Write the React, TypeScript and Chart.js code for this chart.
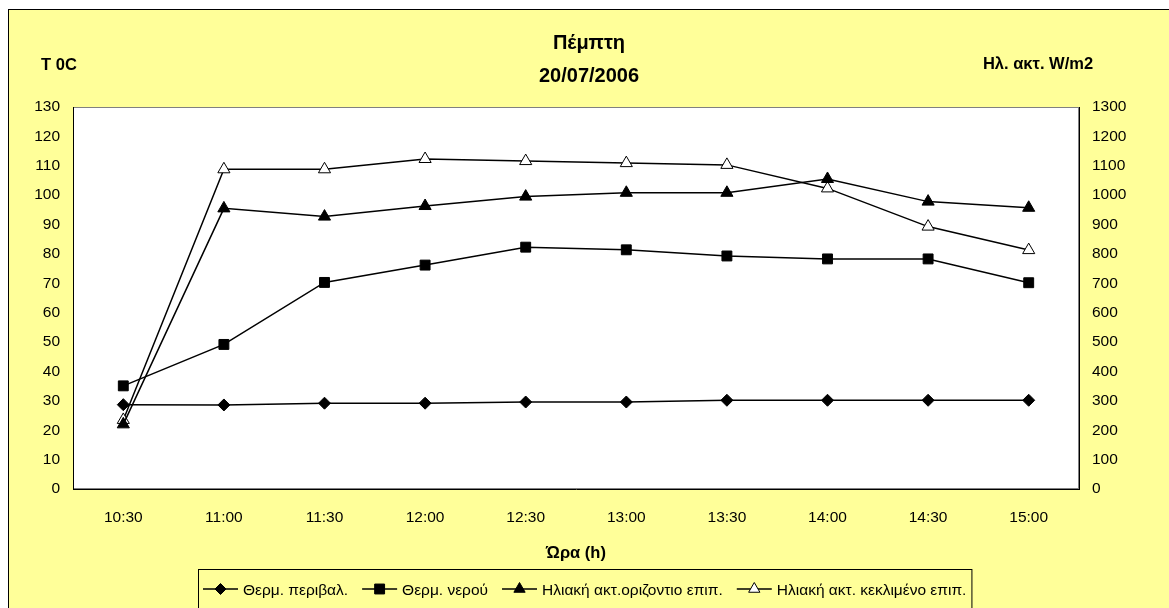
import { useEffect, useRef } from 'react';
import { Chart, registerables } from 'chart.js';

Chart.register(...registerables);

// Time of day (x axis)
const categories = ['10:30', '11:00', '11:30', '12:00', '12:30', '13:00', '13:30', '14:00', '14:30', '15:00'];

// Temperatures, °C (left axis)
const ambientTemp = [28.7, 28.6, 29.2, 29.2, 29.6, 29.6, 30.2, 30.2, 30.2, 30.2];
const waterTemp = [35.1, 49.2, 70.3, 76.2, 82.3, 81.4, 79.3, 78.3, 78.3, 70.2];

// Solar radiation, W/m2 (right axis)
const horizontalRad = [220, 955, 927, 963, 995, 1008, 1008, 1055, 978, 957];
const tiltedRad = [235, 1088, 1088, 1123, 1116, 1109, 1103, 1023, 893, 813];

const seriesLabels = [
  'Θερμ. περιβαλ.',
  'Θερμ. νερού',
  'Ηλιακή ακτ.οριζοντιο επιπ.',
  'Ηλιακή ακτ. κεκλιμένο επιπ.',
];

const titleLines = ['Πέμπτη', '20/07/2006'];
const leftUnit = 'T 0C';
const rightUnit = 'Ηλ. ακτ. W/m2';
const xTitle = 'Ώρα (h)';

const FONT = "'Liberation Sans', Arial, sans-serif";
const W = 1169;
const H = 608;

type Marker = 'diamond' | 'square' | 'triangle' | 'openTriangle';
const legendMarkers: Marker[] = ['diamond', 'square', 'triangle', 'openTriangle'];

function drawMarker(ctx: CanvasRenderingContext2D, kind: Marker, x: number, y: number, r: number) {
  ctx.beginPath();
  if (kind === 'diamond') {
    ctx.moveTo(x - r, y);
    ctx.lineTo(x, y - r);
    ctx.lineTo(x + r, y);
    ctx.lineTo(x, y + r);
  } else if (kind === 'square') {
    const h = r * Math.SQRT1_2;
    ctx.rect(x - h, y - h, 2 * h, 2 * h);
  } else {
    ctx.moveTo(x, y - r);
    ctx.lineTo(x + r * 0.866, y + r * 0.5);
    ctx.lineTo(x - r * 0.866, y + r * 0.5);
  }
  ctx.closePath();
  ctx.fillStyle = kind === 'openTriangle' ? '#fff' : '#000';
  ctx.fill();
  ctx.strokeStyle = '#000';
  ctx.lineWidth = 1;
  ctx.stroke();
}

const decorPlugin = {
  id: 'decor',
  beforeDraw(chart: any) {
    const { ctx, chartArea: a } = chart;
    ctx.save();
    ctx.fillStyle = '#ffffff';
    ctx.fillRect(a.left, a.top, a.right - a.left, a.bottom - a.top);
    ctx.strokeStyle = '#808080';
    ctx.lineWidth = 1;
    ctx.strokeRect(a.left + 0.5, a.top + 0.5, a.right - a.left - 1, a.bottom - a.top - 1);
    ctx.restore();
  },
  afterDraw(chart: any) {
    const { ctx } = chart;
    ctx.save();
    ctx.fillStyle = '#000';
    ctx.textAlign = 'center';
    ctx.textBaseline = 'alphabetic';

    // Chart title, two lines
    ctx.font = `bold 20px ${FONT}`;
    ctx.fillText(titleLines[0], 589, 49);
    ctx.fillText(titleLines[1], 589, 82);

    // Units above the two value axes
    ctx.font = `bold 16.5px ${FONT}`;
    ctx.fillText(leftUnit, 59, 70);
    ctx.fillText(rightUnit, 1038, 69);

    // Legend box along the bottom edge
    ctx.font = `15.5px ${FONT}`;
    const boxX = 198;
    const boxY = 569;
    const cy = 589;
    const symW = 35;
    const gap = 14;
    let x = boxX + 5;
    const positions: number[] = [];
    seriesLabels.forEach((label) => {
      positions.push(x);
      x += symW + 5 + ctx.measureText(label).width + gap;
    });
    const boxW = x - gap + 5 - boxX;
    ctx.fillStyle = '#FFFF99';
    ctx.fillRect(boxX, boxY, boxW, 60);
    ctx.strokeStyle = '#000';
    ctx.lineWidth = 1;
    ctx.strokeRect(boxX + 0.5, boxY + 0.5, boxW, 60);

    seriesLabels.forEach((label, i) => {
      const sx = positions[i];
      ctx.strokeStyle = '#000';
      ctx.lineWidth = 1.5;
      ctx.beginPath();
      ctx.moveTo(sx, cy);
      ctx.lineTo(sx + symW, cy);
      ctx.stroke();
      const m = legendMarkers[i];
      drawMarker(ctx, m, sx + symW / 2, cy, m === 'square' ? 7 : m === 'diamond' ? 5.5 : 6.5);
      ctx.fillStyle = '#000';
      ctx.textAlign = 'left';
      ctx.fillText(label, sx + symW + 5, cy + 5.5);
    });
    ctx.restore();
  },
};

export default function App() {
  const ref = useRef<HTMLCanvasElement>(null);

  useEffect(() => {
    const canvas = ref.current;
    if (!canvas) return;

    const tickFont = { family: FONT, size: 15.5 };
    const plainNumber = (v: any) => String(v);
    const lineCommon = {
      borderColor: '#000',
      borderWidth: 1.5,
      pointBorderColor: '#000',
      pointBorderWidth: 1,
      tension: 0,
    };

    const chart = new Chart(canvas, {
      type: 'line',
      data: {
        labels: categories,
        datasets: [
          {
            ...lineCommon,
            label: seriesLabels[0],
            data: ambientTemp,
            yAxisID: 'y',
            pointStyle: 'rectRot',
            pointRadius: 6,
            pointBackgroundColor: '#000',
          },
          {
            ...lineCommon,
            label: seriesLabels[1],
            data: waterTemp,
            yAxisID: 'y',
            pointStyle: 'rect',
            pointRadius: 7,
            pointBackgroundColor: '#000',
          },
          {
            ...lineCommon,
            label: seriesLabels[2],
            data: horizontalRad,
            yAxisID: 'y1',
            pointStyle: 'triangle',
            pointRadius: 7,
            pointBackgroundColor: '#000',
          },
          {
            ...lineCommon,
            label: seriesLabels[3],
            data: tiltedRad,
            yAxisID: 'y1',
            pointStyle: 'triangle',
            pointRadius: 7,
            pointBackgroundColor: '#fff',
          },
        ],
      },
      options: {
        responsive: false,
        animation: false,
        devicePixelRatio: 1,
        layout: { padding: { top: 107, left: 0, right: 0, bottom: 0 } },
        plugins: {
          legend: { display: false },
          title: { display: false },
          tooltip: { enabled: false },
        },
        scales: {
          x: {
            type: 'category',
            offset: true,
            grid: { display: false, drawTicks: false },
            border: { display: true, color: '#000', width: 1 },
            ticks: { color: '#000', font: tickFont, padding: 19, maxRotation: 0, autoSkip: false },
            title: {
              display: true,
              text: xTitle,
              color: '#000',
              font: { family: FONT, size: 16.5, weight: 'bold' },
              padding: { top: 0, bottom: 45 },
            },
            afterFit(scale: any) {
              scale.height = 119;
            },
          },
          y: {
            position: 'left',
            min: 0,
            max: 130,
            grid: { display: false, drawTicks: false },
            border: { display: true, color: '#000', width: 1 },
            ticks: { stepSize: 10, color: '#000', font: tickFont, padding: 13, callback: plainNumber },
            afterFit(scale: any) {
              scale.width = 73;
            },
          },
          y1: {
            position: 'right',
            min: 0,
            max: 1300,
            grid: { display: false, drawTicks: false },
            border: { display: true, color: '#000', width: 1 },
            ticks: { stepSize: 100, color: '#000', font: tickFont, padding: 13, callback: plainNumber },
            afterFit(scale: any) {
              scale.width = 90;
            },
          },
        },
      },
      plugins: [decorPlugin],
    } as any);

    return () => chart.destroy();
  }, []);

  return (
    <div
      style={{
        position: 'fixed',
        left: 0,
        top: 0,
        width: W,
        height: H,
        overflow: 'hidden',
        background: '#fff',
      }}
    >
      <div
        style={{
          position: 'absolute',
          left: 8,
          top: 9,
          width: 1162,
          height: 610,
          background: '#FFFF99',
          border: '1px solid #000',
          boxSizing: 'border-box',
        }}
      />
      <canvas
        ref={ref}
        width={W}
        height={H}
        style={{ position: 'absolute', left: 0, top: 0, width: W, height: H }}
      />
    </div>
  );
}
